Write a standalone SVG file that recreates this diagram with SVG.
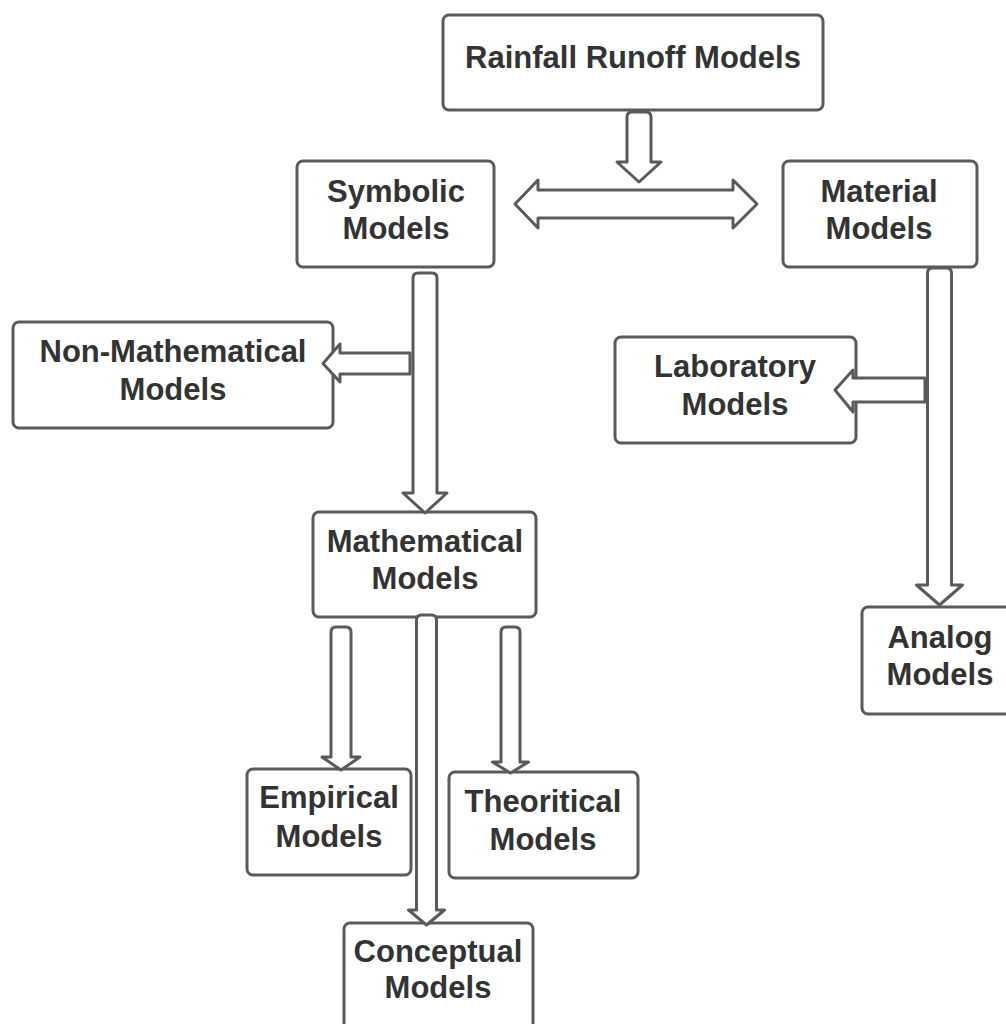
<svg xmlns="http://www.w3.org/2000/svg" width="1006" height="1024" viewBox="0 0 1006 1024">
<style>
.box{fill:#fff;stroke:#5a5a5a;stroke-width:3}
.arr{fill:#fff;stroke:#5a5a5a;stroke-width:3;stroke-linejoin:round}
text{font-family:"Liberation Sans",Arial,sans-serif;font-weight:bold;font-size:31px;fill:#333;text-anchor:middle}
</style>
<rect width="1006" height="1024" fill="#fff"/>
<g id="rainfall"><rect class="box" x="443" y="15" width="380" height="95" rx="6"/><text x="633" y="68">Rainfall Runoff Models</text></g>
<g id="symbolic"><rect class="box" x="297" y="161" width="197" height="106" rx="6"/><text x="396" y="202">Symbolic</text><text x="396" y="239">Models</text></g>
<g id="material"><rect class="box" x="783" y="161" width="194" height="106" rx="6"/><text x="879" y="202">Material</text><text x="879" y="239">Models</text></g>
<g id="nonmath"><rect class="box" x="13" y="322" width="320" height="106" rx="6"/><text x="173" y="362">Non-Mathematical</text><text x="173" y="400">Models</text></g>
<g id="laboratory"><rect class="box" x="615" y="337" width="241" height="106" rx="6"/><text x="735" y="377">Laboratory</text><text x="735" y="415">Models</text></g>
<g id="analog"><rect class="box" x="862" y="607" width="150" height="107" rx="6"/><text x="940" y="648">Analog</text><text x="940" y="685">Models</text></g>
<g id="mathematical"><rect class="box" x="313" y="512" width="223" height="105" rx="6"/><text x="425" y="552">Mathematical</text><text x="425" y="589">Models</text></g>
<g id="empirical"><rect class="box" x="247" y="769" width="164" height="106" rx="6"/><text x="329" y="808">Empirical</text><text x="329" y="847">Models</text></g>
<g id="theoritical"><rect class="box" x="449" y="772" width="189" height="106" rx="6"/><text x="543" y="812">Theoritical</text><text x="543" y="850">Models</text></g>
<g id="conceptual"><rect class="box" x="344" y="923" width="189" height="110" rx="6"/><text x="438" y="962">Conceptual</text><text x="438" y="998">Models</text></g>
<g id="connectors">
<path class="arr" d="M627,162 L627,117 Q627,112 632,112 L646,112 Q651,112 651,117 L651,162 L661,162 L639,182 L617,162 Z"/>
<path class="arr" d="M515,204 L538,180 L538,190 L733,190 L733,180 L757,204 L733,228 L733,218 L538,218 L538,228 Z"/>
<path class="arr" d="M413,493 L413,278 Q413,273 418,273 L432,273 Q437,273 437,278 L437,493 L447,493 L425,513 L403,493 Z"/>
<path class="arr" d="M927.5,585 L927.5,273 Q927.5,268 932.5,268 L946.5,268 Q951.5,268 951.5,273 L951.5,585 L962.5,585 L939.5,605 L916.5,585 Z"/>
<path class="arr" d="M410,353 L410,374 L340,374 L340,382 L323,363.5 L340,344 L340,353 Z"/>
<path class="arr" d="M925,378 L925,402 L853,402 L853,412 L835,390 L853,370 L853,378 Z"/>
<path class="arr" d="M416.5,910 L416.5,620 Q416.5,615 421.5,615 L431.5,615 Q436.5,615 436.5,620 L436.5,910 L444.5,910 L426.5,925 L408.5,910 Z"/>
<path class="arr" d="M331,757 L331,632 Q331,627 336,627 L346,627 Q351,627 351,632 L351,757 L360,757 L341,770 L322,757 Z"/>
<path class="arr" d="M501,762 L501,632 Q501,627 506,627 L515,627 Q520,627 520,632 L520,762 L528.5,762 L510.5,773 L492.5,762 Z"/>
</g>
</svg>
